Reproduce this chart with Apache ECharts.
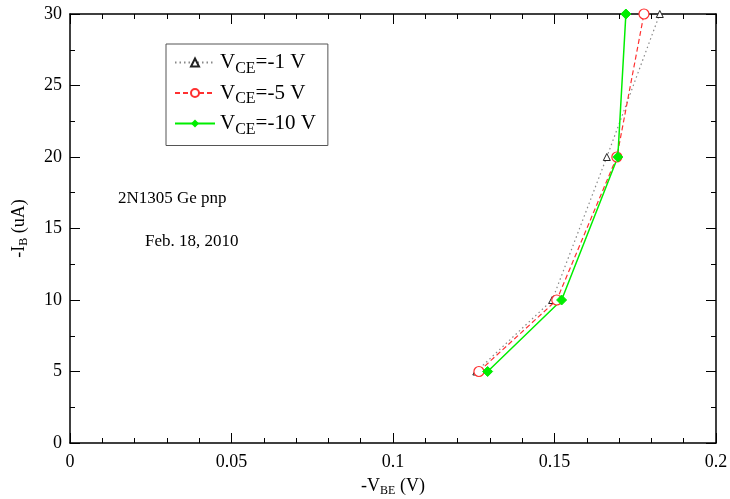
<!DOCTYPE html>
<html>
<head>
<meta charset="utf-8">
<script src="https://cdn.jsdelivr.net/npm/echarts@6/dist/echarts.min.js"></script>
<style>
  html, body { margin: 0; padding: 0; background: #fff; }
  #chart { width: 730px; height: 499px; }
</style>
</head>
<body>
<div id="chart"></div>
<script>
  // -I_B values (uA), shared by all curves
  var ib = [5, 10, 20, 30];
  // -V_BE (V) for each collector voltage
  var vbe1 = [0.1258, 0.1493, 0.1662, 0.1826];
  var vbe5 = [0.1266, 0.1507, 0.1693, 0.1777];
  var vbe10 = [0.1293, 0.1522, 0.1696, 0.1721];
  var seriesNames = ['VCE=-1 V', 'VCE=-5 V', 'VCE=-10 V'];
  var xTicks = [0, 0.05, 0.1, 0.15, 0.2];
  var yTicks = [0, 5, 10, 15, 20, 25, 30];

  function pairs(xs, ys) {
    return xs.map(function(x, i) { return [x, ys[i]]; });
  }

  var font = 'Liberation Serif, Times New Roman, serif';
  var chart = echarts.init(document.getElementById('chart'));

  var baseAxis = {
    axisLine: { show: true, onZero: false, lineStyle: { color: '#000', width: 1.5 } },
    axisTick: { show: true, inside: true, length: 10, lineStyle: { color: '#000', width: 1 } },
    minorTick: { show: true, length: 5, lineStyle: { color: '#000', width: 1 } },
    splitLine: { show: false },
    axisLabel: { color: '#000', fontFamily: font, fontSize: 18 }
  };

  var option = {
    animation: false,
    backgroundColor: '#fff',
    textStyle: { fontFamily: font },
    grid: { left: 70, right: 14, top: 14, bottom: 56, outerBoundsMode: 'none', containLabel: false },
    legend: {
      orient: 'vertical',
      left: 166,
      top: 44,
      data: seriesNames,
      itemWidth: 40,
      itemHeight: 10,
      itemGap: 6,
      padding: [8, 12, 8, 8],
      borderColor: '#555',
      borderWidth: 1,
      formatter: function(name) {
        return 'V{sub|CE}' + name.slice(3);
      },
      textStyle: {
        fontFamily: font, fontSize: 21, color: '#000',
        rich: { sub: { fontFamily: font, fontSize: 16, color: '#000', verticalAlign: 'bottom', padding: [12, 0, 0, 0] } }
      }
    },
    xAxis: [
      echarts.util.merge({
        type: 'value', min: 0, max: 0.2, interval: 0.05,
        minorTick: { splitNumber: 5 },
        axisLabel: { margin: 10, formatter: function(v) { return xTicks.indexOf(v) >= 0 ? String(v) : ''; } },
        name: '-V{sub|BE} (V)',
        nameLocation: 'middle',
        nameGap: 32,
        nameTextStyle: {
          fontFamily: font, fontSize: 18, color: '#000',
          rich: { sub: { fontFamily: font, fontSize: 12, color: '#000', padding: [10, 0, 0, 0] } }
        }
      }, baseAxis, true),
      echarts.util.merge({
        type: 'value', min: 0, max: 0.2, interval: 0.05, position: 'top',
        minorTick: { splitNumber: 5 },
        axisLabel: { show: false }
      }, baseAxis, false)
    ],
    yAxis: [
      echarts.util.merge({
        type: 'value', min: 0, max: 30, interval: 5,
        minorTick: { splitNumber: 2 },
        axisLabel: { margin: 8, formatter: function(v) { return yTicks.indexOf(v) >= 0 ? String(v) : ''; } },
        name: '-I{sub|B} (uA)',
        nameLocation: 'middle',
        nameGap: 40,
        nameRotate: 90,
        nameTextStyle: {
          fontFamily: font, fontSize: 18, color: '#000',
          rich: { sub: { fontFamily: font, fontSize: 12, color: '#000', padding: [10, 0, 0, 0] } }
        }
      }, baseAxis, true),
      echarts.util.merge({
        type: 'value', min: 0, max: 30, interval: 5, position: 'right',
        minorTick: { splitNumber: 2 },
        axisLabel: { show: false }
      }, baseAxis, false)
    ],
    graphic: [
      { type: 'text', left: 118, top: 190, style: { text: '2N1305 Ge pnp', font: '17px ' + font, fill: '#000' } },
      { type: 'text', left: 145, top: 233, style: { text: 'Feb. 18, 2010', font: '17px ' + font, fill: '#000' } }
    ],
    series: [
      {
        name: seriesNames[0], type: 'line', data: pairs(vbe1, ib),
        symbol: 'triangle', symbolSize: 7,
        itemStyle: { color: '#fff', borderColor: '#222', borderWidth: 1 },
        lineStyle: { color: '#888', width: 1.2, type: [1.5, 3] },
        color: '#222'
      },
      {
        name: seriesNames[1], type: 'line', data: pairs(vbe5, ib),
        symbol: 'circle', symbolSize: 10,
        itemStyle: { color: '#fff', borderColor: '#ff3030', borderWidth: 1.2 },
        lineStyle: { color: '#ff3030', width: 1.2, type: [5, 3] },
        color: '#ff3030'
      },
      {
        name: seriesNames[2], type: 'line', data: pairs(vbe10, ib),
        symbol: 'diamond', symbolSize: 10,
        itemStyle: { color: '#00ee00', borderColor: '#00ee00' },
        lineStyle: { color: '#00ee00', width: 1.5 },
        color: '#00ee00'
      }
    ]
  };

  chart.setOption(option);
</script>
</body>
</html>
